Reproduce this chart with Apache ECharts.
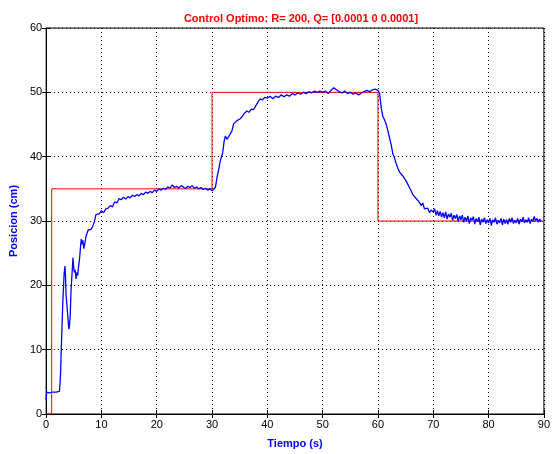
<!DOCTYPE html>
<html>
<head>
<meta charset="utf-8">
<script src="https://cdn.jsdelivr.net/npm/echarts@6/dist/echarts.min.js"></script>
<style>
html,body{margin:0;padding:0;background:#fff;}
#main{width:553px;height:454px;}
</style>
</head>
<body>
<div id="main"></div>
<script>
// posicion medida (azul), por tramos
var t1 = [0,0.1,0.3,0.6,0.9,1.2,1.5,1.8,2.1,2.4,2.5,2.6,2.75,2.85,3.0,3.1,3.25,3.4,3.5,3.6,3.75,3.9,4.0,4.1,4.2,4.35,4.5,4.6,4.7,4.85,4.95,5.1,5.25,5.4,5.55,5.7,5.85,6.05,6.2,6.35,6.5,6.65,6.8,7.0,7.2,7.4,7.6,7.8,8.1,8.4,8.7,9.0,9.3,9.6];
var y1 = [2.2,3.4,3.6,3.3,3.6,3.4,3.7,3.4,3.6,3.5,4.5,6.2,10.4,10.6,17,17.2,21.8,23,21.5,18.5,18.3,15.5,15.3,13.2,13.6,15.2,19.2,19.5,22,24.3,23.1,22,22.4,21,22,21.5,22.8,24.2,25.8,27.2,26.4,27,25.7,26.5,27.6,27.8,28.6,28.8,28.7,29.1,29.8,31,31.3,31.1];

var t2 = [10.0,10.4,10.8,11.2,11.6,12.0,12.4,12.8,13.2,13.6,14.0,14.4,14.8,15.2,15.6,16.0,16.4,16.8,17.2,17.6,18.0,18.4,18.8,19.2,19.6,20.0,20.4,20.8,21.2,21.6,22.0,22.4,22.8,23.2,23.6,24.0,24.4,24.8,25.2,25.6,26.0,26.4,26.8,27.2,27.6,28.0,28.4,28.8,29.2,29.6,30.0];
var y2 = [31.6,31.3,31.9,32.0,32.4,32.2,33.0,32.8,33.5,33.3,33.7,33.4,33.8,33.6,34.0,33.8,34.1,33.9,34.3,34.1,34.5,34.3,34.6,34.4,34.8,34.6,35.0,34.8,35.1,34.9,35.3,35.1,35.6,35.2,35.4,35.1,35.5,35.3,35.0,35.4,35.2,35.5,35.1,35.3,35.0,35.2,34.9,35.1,34.8,35.0,34.7];

var t3 = [30.3,30.6,30.9,31.2,31.5,31.7,31.9,32.2,32.4,32.7,33.0,33.3,33.6,33.9,34.2,34.5,34.8,35.1,35.5,35.9,36.3,36.7,37.1,37.5,37.9,38.3,38.7,39.1,39.5,40,40.5,41,41.5,42,42.5,43,43.5,44,44.5,45,45.5,46,46.5,47,47.5,48,48.5,49,49.5,50,50.5,51,51.5,52,52.5,53,53.5,54,54.5,55,55.5,56,56.5,57,57.5,58,58.5,59,59.5,60];
var y3 = [34.5,35.2,36.8,38.0,39.4,39.2,40.5,42.5,43.2,42.7,43.1,42.9,44.0,45.1,45.0,45.6,45.4,45.9,46.3,46.8,47.1,46.9,47.4,47.3,47.9,48.5,49.0,48.8,49.2,49.1,49.4,49.0,49.4,49.2,49.6,49.3,49.6,49.4,49.8,49.6,49.9,49.7,50.0,49.8,50.1,49.9,50.2,50.0,50.2,50.0,50.2,49.8,50.3,50.7,50.4,50.1,49.9,50.2,49.8,50.0,49.7,49.9,49.6,49.9,50.1,50.3,50.1,50.4,50.5,50.3];

var t4 = [60.3,60.6,60.9,61.2,61.5,61.8,62.1,62.4,62.7,63.0,63.3,63.6,63.9,64.2,64.5,64.8,65.1,65.4,65.7,66.0,66.3,66.6,66.9,67.2,67.5,67.8,68.1,68.4,68.7,69.0,69.3,69.6];
var y4 = [49.8,47.5,46.2,45.7,45.0,44.0,42.9,41.8,40.4,39.8,38.9,38.2,37.6,37.4,37.0,36.6,36.2,35.9,35.2,34.7,34.1,34.2,33.5,33.2,32.9,32.4,32.8,31.9,31.6,32.0,31.3,31.7];

var t5 = [70.0,70.25,70.5,70.75,71.0,71.25,71.5,71.75,72.0,72.25,72.5,72.75,73.0,73.25,73.5,73.75,74.0,74.25,74.5,74.75,75.0,75.25,75.5,75.75,76.0,76.25,76.5,76.75,77.0,77.25,77.5,77.75,78.0,78.25,78.5,78.75,79.0,79.25,79.5,79.75,80.0,80.25,80.5,80.75,81.0,81.25,81.5,81.75,82.0,82.25,82.5,82.75,83.0,83.25,83.5,83.75,84.0,84.25,84.5,84.75,85.0,85.25,85.5,85.75,86.0,86.25,86.5,86.75,87.0,87.25,87.5,87.75,88.0,88.25,88.5,88.75,89.0,89.25,89.5];
var y5 = [31.4,31.9,30.9,31.6,30.8,31.5,30.6,31.3,30.5,31.4,30.3,31.1,30.6,31.2,30.1,30.9,30.4,31.0,29.9,30.8,30.2,30.9,29.8,30.6,30.0,30.8,29.6,30.5,30.1,30.7,29.5,30.4,29.9,30.6,29.4,30.3,29.8,30.5,29.6,30.2,29.7,30.4,29.3,30.2,29.8,30.5,29.5,30.1,29.7,30.4,29.4,30.3,29.6,30.2,29.5,30.4,29.8,30.5,29.6,30.1,29.7,30.4,29.5,30.3,29.9,30.6,29.7,30.2,29.8,30.5,29.6,30.3,29.9,30.7,30.0,30.4,29.8,30.3,29.9];

// referencia (rojo)
var refTiempo = [0,1,1,30,30,60,60,89.8];
var refPosicion = [0,0,35,35,50,50,30,30];

var medida = [];
[[t1,y1],[t2,y2],[t3,y3],[t4,y4],[t5,y5]].forEach(function (tramo) {
    for (var i = 0; i < tramo[0].length; i++) {
        medida.push([tramo[0][i], tramo[1][i]]);
    }
});
var referencia = [];
for (var j = 0; j < refTiempo.length; j++) {
    referencia.push([refTiempo[j], refPosicion[j]]);
}

var fuente = 'Liberation Sans';
var chart = echarts.init(document.getElementById('main'));
var option = {
    animation: false,
    backgroundColor: '#fff',
    title: {
        text: 'Control Optimo: R= 200, Q= [0.0001 0 0.0001]',
        left: 296,
        textAlign: 'center',
        top: 8,
        textStyle: {color: '#ff0000', fontFamily: fuente, fontSize: 11, fontWeight: 'bold'}
    },
    grid: {
        left: 46, right: 7, top: 28, bottom: 30,
        show: true, borderColor: '#000', borderWidth: 1
    },
    xAxis: [{
        type: 'value',
        min: 0, max: 90, interval: 10,
        name: 'Tiempo (s)',
        nameLocation: 'middle',
        nameGap: 24,
        nameTextStyle: {color: '#0000ff', fontFamily: fuente, fontSize: 11, fontWeight: 'bold'},
        axisLine: {show: true, lineStyle: {color: '#000'}},
        axisTick: {show: true, inside: true, length: 4, lineStyle: {color: '#000'}},
        axisLabel: {color: '#000', fontFamily: fuente, fontSize: 11, margin: 5},
        splitLine: {show: true, lineStyle: {color: '#000', type: [1, 3], width: 1}}
    }, {
        type: 'value', position: 'top',
        min: 0, max: 90, interval: 10,
        axisLine: {show: false},
        axisTick: {show: true, inside: true, length: 4, lineStyle: {color: '#000'}},
        axisLabel: {show: false},
        splitLine: {show: false}
    }],
    yAxis: [{
        type: 'value',
        min: 0, max: 60, interval: 10,
        name: 'Posicion (cm)',
        nameLocation: 'middle',
        nameGap: 24,
        nameTextStyle: {color: '#0000ff', fontFamily: fuente, fontSize: 11, fontWeight: 'bold'},
        axisLine: {show: true, lineStyle: {color: '#000'}},
        axisTick: {show: true, inside: true, length: 4, lineStyle: {color: '#000'}},
        axisLabel: {color: '#000', fontFamily: fuente, fontSize: 11, margin: 4},
        splitLine: {show: true, lineStyle: {color: '#000', type: [1, 3], width: 1}}
    }, {
        type: 'value', position: 'right',
        min: 0, max: 60, interval: 10,
        axisLine: {show: false},
        axisTick: {show: true, inside: true, length: 4, lineStyle: {color: '#000'}},
        axisLabel: {show: false},
        splitLine: {show: false}
    }],
    series: [{
        name: 'referencia',
        type: 'line',
        data: referencia,
        showSymbol: false,
        lineStyle: {color: '#ff0000', width: 1},
        z: 2
    }, {
        name: 'posicion',
        type: 'line',
        data: medida,
        showSymbol: false,
        lineStyle: {color: '#0000ff', width: 1.3},
        z: 3
    }]
};
chart.setOption(option);
</script>
</body>
</html>
